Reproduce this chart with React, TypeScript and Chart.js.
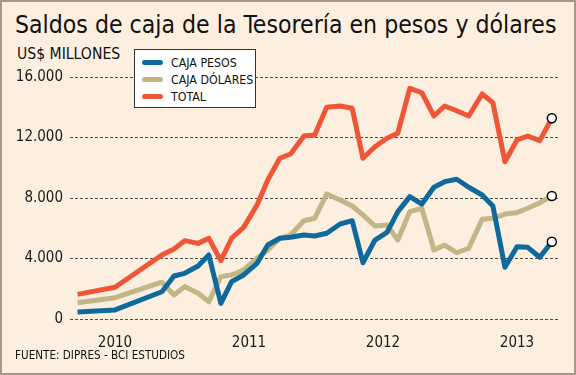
import React, { useEffect, useRef } from "react";
import { Chart, registerables } from "chart.js";

Chart.register(...registerables);

// Fechas como años decimales
const fechas = [
  2009.72, 2010.0, 2010.35, 2010.44, 2010.52, 2010.62, 2010.7, 2010.79, 2010.87, 2010.96,
  2011.06, 2011.14, 2011.23, 2011.31, 2011.41, 2011.49, 2011.58, 2011.68, 2011.77, 2011.85,
  2011.94, 2012.03, 2012.11, 2012.2, 2012.29, 2012.38, 2012.46, 2012.55, 2012.64, 2012.74,
  2012.82, 2012.91, 2013.0, 2013.08, 2013.17, 2013.26,
];

const cajaPesos = [
  460, 600, 1800, 2840, 3020, 3500, 4230, 1040, 2470, 2910,
  3680, 4890, 5340, 5400, 5550, 5490, 5670, 6280, 6500, 3720,
  5220, 5730, 7080, 8090, 7600, 8710, 9080, 9240, 8710, 8200,
  7470, 3420, 4780, 4740, 4080, 5110,
];

const cajaDolares = [
  1080, 1410, 2430, 1590, 2140, 1700, 1140, 2800, 2910, 3240,
  4010, 4560, 5340, 5550, 6500, 6660, 8270, 7870, 7470, 6880,
  6150, 6220, 5220, 7100, 7320, 4560, 4890, 4380, 4680, 6590,
  6660, 6940, 7030, 7320, 7690, 8130,
];

const total = [
  1630, 2100, 4230, 4630, 5180, 5000, 5340, 3860, 5340, 6060,
  7540, 9190, 10630, 10910, 12100, 12170, 14000, 14080, 13930, 10630,
  11390, 11950, 12280, 15250, 14960, 13420, 14080, 13770, 13420, 14880,
  14300, 10400, 11840, 12100, 11790, 13270,
];

const ticksAnios = [2010, 2011, 2012, 2013];
const ticksY = [0, 4000, 8000, 12000, 16000];

const FONT = "'DejaVu Sans Condensed', 'DejaVu Sans', sans-serif";
const AZUL = "#0f6a9b";
const ARENA = "#c2b687";
const ROJO = "#ef5537";

const leyenda = [
  { label: "CAJA PESOS", color: AZUL },
  { label: "CAJA DÓLARES", color: ARENA },
  { label: "TOTAL", color: ROJO },
];

function fmt(v: number) {
  return v.toLocaleString("de-DE");
}

export default function App() {
  const ref = useRef<HTMLCanvasElement | null>(null);

  useEffect(() => {
    document.body.style.margin = "0";
    const ctx = ref.current!;
    const mk = (vals: number[]) => vals.map((y, i) => ({ x: fechas[i], y }));
    const last = (c: any) => (c.dataIndex === fechas.length - 1 ? 4.5 : 0);
    const ds = (label: string, vals: number[], color: string) => ({
      label,
      data: mk(vals),
      borderColor: color,
      backgroundColor: color,
      borderWidth: 5,
      borderJoinStyle: "round" as const,
      tension: 0,
      pointRadius: last,
      pointHoverRadius: last,
      pointBackgroundColor: "#ffffff",
      pointBorderColor: "#000000",
      pointBorderWidth: 1.5,
      clip: false as any,
    });
    const chart = new Chart(ctx, {
      type: "line",
      data: {
        datasets: [
          ds("TOTAL", total, ROJO),
          ds("CAJA PESOS", cajaPesos, AZUL),
          ds("CAJA DÓLARES", cajaDolares, ARENA),
        ],
      },
      options: {
        animation: false,
        responsive: false,
        maintainAspectRatio: false,
        events: [],
        layout: { padding: { left: 0, right: 18, top: 77, bottom: 0 } },
        plugins: { legend: { display: false }, title: { display: false }, tooltip: { enabled: false } },
        scales: {
          x: {
            type: "linear",
            min: 2009.664,
            max: 2013.306,
            grid: { display: false },
            border: { display: false },
            afterBuildTicks: (s: any) => {
              s.ticks = ticksAnios.map((v) => ({ value: v }));
            },
            afterFit: (s: any) => {
              s.height = 56;
            },
            ticks: {
              padding: 7,
              color: "#1a1a1a",
              font: { family: FONT, size: 15 },
              callback: (v: any) => String(v),
              maxRotation: 0,
              autoSkip: false,
            },
          },
          y: {
            min: 0,
            max: 16000,
            afterBuildTicks: (s: any) => {
              s.ticks = ticksY.map((v) => ({ value: v }));
            },
            afterFit: (s: any) => {
              s.width = 70;
            },
            grid: { color: "#4a4a4a", lineWidth: 1, drawTicks: false },
            border: { display: false, dash: [3, 2] },
            ticks: {
              padding: 7,
              color: "#1a1a1a",
              font: { family: FONT, size: 15 },
              callback: (v: any) => fmt(Number(v)),
            },
          },
        },
      },
    });
    return () => chart.destroy();
  }, []);

  return (
    <div style={{ position: "relative", width: 576, height: 375, background: "#fcefdf", fontFamily: FONT, overflow: "hidden" }}>
      <div style={{ position: "absolute", left: 15, top: 10, fontSize: 24.6, lineHeight: "30px", color: "#111", whiteSpace: "nowrap" }}>
        Saldos de caja de la Tesorería en pesos y dólares
      </div>
      <div style={{ position: "absolute", left: 17, top: 47, fontSize: 15.6, lineHeight: "15px", color: "#111", whiteSpace: "nowrap" }}>
        US$ MILLONES
      </div>
      <canvas ref={ref} width={576} height={375} style={{ position: "absolute", left: 0, top: 0, width: 576, height: 375 }} />
      <div
        style={{
          position: "absolute",
          left: 134,
          top: 49,
          width: 122,
          height: 59,
          boxSizing: "border-box",
          border: "1px solid #333",
          background: "#ffffff",
        }}
      >
        {leyenda.map((l, i) => (
          <div key={l.label} style={{ position: "absolute", left: 7, top: 4 + i * 17, height: 17, display: "flex", alignItems: "center", whiteSpace: "nowrap" }}>
            <span style={{ display: "inline-block", width: 21, height: 5, borderRadius: 3, background: l.color, marginRight: 8 }} />
            <span style={{ fontSize: 12.3, color: "#111" }}>{l.label}</span>
          </div>
        ))}
      </div>
      <div style={{ position: "absolute", left: 15, top: 348, fontSize: 11.6, lineHeight: "14px", color: "#111", whiteSpace: "nowrap" }}>
        FUENTE: DIPRES - BCI ESTUDIOS
      </div>
      <div style={{ position: "absolute", left: 0, top: 0, width: 576, height: 375, boxSizing: "border-box", border: "2px solid #a8978a", pointerEvents: "none" }} />
    </div>
  );
}
